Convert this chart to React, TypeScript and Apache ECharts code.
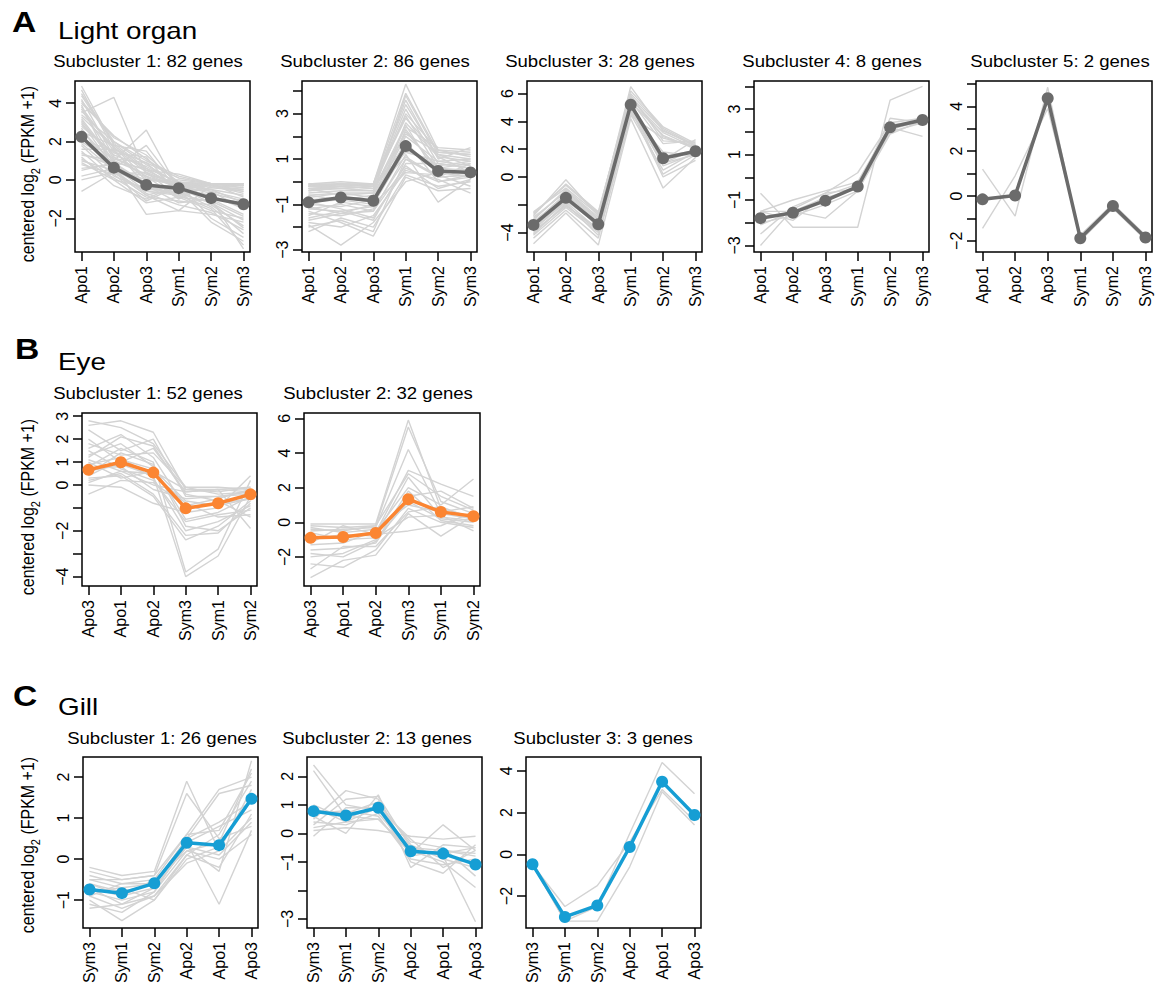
import React, { useEffect, useRef } from 'react';
import * as echarts from 'echarts';

const FONT = "'Liberation Sans', Arial, Helvetica, sans-serif";
const GREY = '#d3d3d3';
const COL_A = '#6b6b6b';
const COL_B = '#fb8532';
const COL_C = '#169ed4';

// ---------- categories ----------
const catsA = ['Apo1', 'Apo2', 'Apo3', 'Sym1', 'Sym2', 'Sym3'];
const catsB = ['Apo3', 'Apo1', 'Apo2', 'Sym3', 'Sym1', 'Sym2'];
const catsC = ['Sym3', 'Sym1', 'Sym2', 'Apo2', 'Apo1', 'Apo3'];

// ---------- panel titles ----------
const titlesA = ['Subcluster 1: 82 genes', 'Subcluster 2: 86 genes', 'Subcluster 3: 28 genes', 'Subcluster 4: 8 genes', 'Subcluster 5: 2 genes'];
const titlesB = ['Subcluster 1: 52 genes', 'Subcluster 2: 32 genes'];
const titlesC = ['Subcluster 1: 26 genes', 'Subcluster 2: 13 genes', 'Subcluster 3: 3 genes'];

// ---------- y ticks / labels ----------
const ticksA1 = [-2, 0, 2, 4];          const labelsA1 = [-2, 0, 2, 4];
const ticksA2 = [-3, -2, -1, 0, 1, 2, 3, 4]; const labelsA2 = [-3, -1, 1, 3];
const ticksA3 = [-4, -2, 0, 2, 4, 6];   const labelsA3 = [-4, 0, 2, 4, 6];
const ticksA4 = [-3, -2, -1, 0, 1, 2, 3, 4]; const labelsA4 = [-3, -1, 1, 3];
const ticksA5 = [-2, -1, 0, 1, 2, 3, 4, 5]; const labelsA5 = [-2, 0, 2, 4];
const ticksB1 = [-4, -3, -2, -1, 0, 1, 2, 3]; const labelsB1 = [-4, -2, 0, 1, 2, 3];
const ticksB2 = [-2, 0, 2, 4, 6];       const labelsB2 = [-2, 0, 2, 4, 6];
const ticksC1 = [-1, 0, 1, 2];          const labelsC1 = [-1, 0, 1, 2];
const ticksC2 = [-3, -2, -1, 0, 1, 2];  const labelsC2 = [-3, -1, 0, 1, 2];
const ticksC3 = [-2, 0, 2, 4];          const labelsC3 = [-2, 0, 2, 4];

// ---------- mean profiles ----------
const meanA1 = [2.25, 0.64, -0.26, -0.43, -0.95, -1.27];
const meanA2 = [-0.91, -0.7, -0.84, 1.57, 0.47, 0.41];
const meanA3 = [-3.45, -1.5, -3.4, 5.2, 1.35, 1.85];
const meanA4 = [-1.8, -1.56, -1.03, -0.41, 2.2, 2.52];
const meanA5 = [-0.15, 0.02, 4.36, -1.89, -0.45, -1.85];
const meanB1 = [0.66, 0.99, 0.54, -1.02, -0.8, -0.41];
const meanB2 = [-0.9, -0.85, -0.62, 1.33, 0.6, 0.35];
const meanC1 = [-0.74, -0.83, -0.59, 0.4, 0.34, 1.47];
const meanC2 = [0.78, 0.63, 0.9, -0.63, -0.71, -1.09];
const meanC3 = [-0.48, -3.0, -2.45, 0.35, 3.48, 1.88];

// ---------- individual gene profiles (representative) ----------
const genesA1 = [
  [4.9, 1.8, 0.5, -0.3, -0.3, -0.4], [4.5, 2.0, 0.8, -0.2, -0.2, -0.2], [4.2, 1.2, 0.2, -0.4, -0.6, -1.0],
  [3.8, 1.5, 0.0, 0.0, -0.2, -0.3], [3.5, 4.3, 0.3, -0.2, -0.3, -0.2], [3.2, 1.0, 2.6, -0.5, -0.8, -1.5],
  [3.0, 0.6, 1.8, -0.4, -1.2, -2.5], [2.8, 1.4, 1.2, -0.8, -1.5, -3.4], [2.6, 0.8, -1.8, -1.6, -1.8, -2.2],
  [2.4, 0.4, -0.8, -1.6, -0.3, -0.6], [2.2, 1.1, 0.5, 0.3, -0.2, -0.3], [2.0, 0.9, -0.2, -0.5, -1.0, -1.8],
  [1.8, 0.2, -0.5, -0.6, -1.4, -2.8], [1.6, 1.6, -0.3, -0.3, -0.5, -0.8], [1.4, 0.7, -0.6, -0.8, -0.2, -0.2],
  [1.2, -0.3, -1.0, -0.2, -2.0, -3.0], [1.0, 0.5, 0.2, -1.0, -0.2, -0.3], [0.8, 0.3, -1.1, -0.3, -0.9, -1.2],
  [0.5, 0.9, -0.4, -0.5, -2.2, -3.2], [0.2, 0.6, 0.0, -0.1, -0.6, -1.5], [-0.6, 0.4, -0.6, -0.7, -0.4, -0.5],
  [3.4, 2.0, 1.0, 0.2, -0.2, -0.2], [2.5, 1.8, 1.5, -0.6, -0.2, -0.3], [1.5, 0.0, -1.2, -0.9, -1.6, -2.0],
  [3.9, 0.5, -0.3, -1.2, -1.0, -3.6], [0.0, 0.4, -0.8, -0.4, -0.2, -0.2], [2.9, 1.3, 0.7, -0.2, -0.2, -0.9],
  [4.0, 2.3, 1.1, -0.1, -0.2, -0.2], [3.6, 1.7, 0.4, -0.3, -0.7, -1.1], [1.1, 0.1, -0.9, -1.1, -1.3, -2.4],
  [4.7, 1.6, 0.9, 0.1, -0.2, -0.2], [4.4, 1.9, 0.6, -0.1, -0.4, -0.6], [3.7, 1.1, 0.9, -0.6, -0.9, -1.4],
  [3.3, 1.7, 0.1, -0.3, -0.2, -0.4], [2.7, 0.3, 0.4, -0.9, -1.1, -1.9], [2.1, 1.5, 0.0, -0.2, -0.5, -1.2],
  [1.9, 0.5, -0.7, -1.3, -1.7, -2.6], [1.3, 1.0, 0.3, -0.4, -0.3, -0.7], [0.9, 0.0, -0.4, -0.7, -1.2, -2.1],
  [0.6, 0.8, -0.2, -0.9, -0.2, -0.3], [4.1, 2.2, 1.3, -0.2, -0.3, -0.5], [3.1, 0.9, 0.6, -0.5, -0.2, -0.2],
];
const genesA2 = [
  [-0.1, -0.1, -0.1, 4.3, 1.4, 1.3], [-0.2, -0.1, -0.2, 3.6, 1.0, 1.5], [-0.3, -0.3, -0.2, 3.2, 0.8, 0.6],
  [-0.1, 0.0, -0.1, 2.8, 1.2, 1.0], [-0.5, -0.4, -0.4, 2.5, 0.2, 0.3], [-0.6, -0.8, -0.6, 2.2, 0.6, 0.5],
  [-0.8, -0.7, -0.9, 1.8, 0.0, 0.2], [-1.0, -1.1, -0.8, 1.5, 0.5, 0.4], [-1.2, -1.0, -1.3, 1.2, -0.9, 0.1],
  [-1.4, -1.5, -1.2, 1.0, 0.3, -0.2], [-1.6, -1.3, -1.7, 0.8, 0.8, 0.6], [-1.8, -2.0, -1.5, 0.5, 0.1, -0.5],
  [-2.2, -1.6, -2.0, 0.3, -0.2, 0.0], [-1.9, -2.8, -1.8, 0.0, 0.4, 0.2], [-1.3, -1.8, -2.4, 0.2, -0.4, -0.3],
  [-0.4, -0.2, -0.3, 3.0, 1.4, 1.1], [-0.7, -0.5, -0.7, 2.0, 0.9, 0.7], [-1.1, -1.4, -1.0, 1.4, 0.7, 0.9],
  [-0.9, -1.2, -1.6, 0.6, 0.0, 0.3], [-1.5, -0.9, -1.1, 2.6, 1.1, 0.4], [-2.0, -1.7, -2.2, 1.0, 0.2, 0.8],
  [-0.2, -0.2, -0.1, 3.9, 1.3, 1.2], [-0.3, -0.6, -0.5, 2.4, 1.5, 1.4],
  [-0.1, -0.2, -0.1, 3.4, 1.1, 0.9], [-0.2, -0.1, -0.1, 2.9, 0.6, 0.8], [-0.3, -0.2, -0.3, 2.1, 1.3, 1.2],
  [-0.15, -0.1, -0.2, 1.6, 0.4, 0.5], [-0.4, -0.3, -0.2, 1.3, 0.9, 1.0], [-0.6, -0.5, -0.5, 3.8, 1.2, 0.7],
  [-0.9, -0.8, -1.0, 0.4, 0.3, 0.6], [-1.2, -1.3, -1.1, 2.3, 0.5, 0.2], [-1.7, -1.4, -1.3, 0.7, -0.3, 0.1],
  [-0.2, -0.3, -0.4, 1.1, 0.2, 0.3],
];
const genesA3 = [
  [-3.0, -1.0, -3.0, 5.8, 3.4, 2.2], [-3.3, -1.2, -3.2, 5.6, 3.2, 2.1], [-2.6, -0.6, -2.6, 6.2, 3.6, 2.4],
  [-3.8, -1.8, -3.8, 5.4, 3.0, 2.0], [-2.8, -0.2, -2.8, 6.5, 3.3, 2.3], [-4.2, -2.2, -4.0, 4.8, 1.5, 1.9],
  [-3.6, -1.6, -3.5, 5.0, 0.8, 1.7], [-4.8, -2.6, -4.9, 4.2, -0.8, 1.4], [-3.2, -1.4, -3.6, 5.1, 0.2, 1.6],
  [-4.0, -2.0, -3.9, 4.5, 0.5, 1.8], [-2.5, -0.8, -2.7, 5.3, 1.0, 2.0], [-4.4, -2.4, -4.4, 4.6, 1.8, 1.5],
  [-3.5, -1.3, -3.3, 5.5, 2.4, 2.6], [-2.9, -1.1, -3.1, 4.9, 0.0, 1.2], [-3.7, -1.7, -3.4, 5.2, 1.2, 2.7],
  [-4.1, -1.9, -4.2, 4.4, 2.8, 2.2], [-3.1, -0.9, -2.9, 6.0, 3.5, 2.3], [-3.4, -1.5, -3.3, 5.7, 2.9, 2.1],
  [-3.9, -2.1, -3.7, 4.7, 1.0, 1.6], [-2.7, -0.5, -2.5, 5.9, 2.6, 2.5],
];
const genesA4 = [
  [-3.0, -1.4, -0.7, 0.2, 2.4, 2.6], [-0.7, -2.2, -2.2, -2.2, 3.4, 4.0], [-2.5, -1.3, -0.7, -0.5, 2.6, 2.4],
  [-1.5, -1.5, -1.8, -0.6, 2.2, 1.8], [-1.5, -1.9, -0.8, -0.3, 2.1, 2.5], [-2.1, -1.5, -0.9, -0.5, 2.0, 2.4],
  [-1.5, -1.0, -0.6, -0.2, 2.3, 2.5], [-2.0, -1.7, -1.2, -0.6, 1.9, 2.5],
];
const genesA5 = [
  [1.2, -0.9, 4.85, -2.0, -0.55, -1.95], [-1.45, 0.9, 3.9, -1.75, -0.35, -1.75],
];
const genesB1 = [
  [2.8, 2.5, 1.8, -0.1, -0.1, -0.2], [2.6, 2.8, 2.3, -0.2, -0.3, -0.1], [2.4, 1.5, 2.0, -0.5, -0.5, -0.4],
  [2.0, 1.0, 1.6, -0.3, -0.2, -0.3], [1.6, 2.2, 1.2, -1.0, -0.8, -0.6], [1.3, 1.8, 0.8, -1.5, -1.2, -0.5],
  [1.1, 0.6, 0.5, -0.8, -1.4, -1.3], [0.9, 1.2, 0.3, -2.0, -1.6, -0.9], [0.7, 0.8, -0.2, -0.6, -0.5, -0.3],
  [0.5, 1.4, 0.9, -1.8, -2.0, -1.0], [0.3, 0.4, -0.5, -2.4, -1.8, -0.7], [0.0, -0.1, -0.8, -1.2, -1.0, 0.4],
  [-0.4, 0.2, 0.1, -0.9, -0.6, -0.2], [0.6, 0.9, 0.4, -4.0, -3.1, -0.5], [0.8, 1.6, 1.0, -3.8, -2.8, 0.2],
  [1.0, 0.3, 0.6, -0.2, -0.2, -1.9], [1.2, 2.1, 1.7, -0.4, -0.7, -1.4], [0.2, 0.5, -0.4, -2.2, -2.1, -0.8],
  [1.5, 0.7, 0.2, -1.6, -1.3, -1.1], [0.4, 1.1, 0.7, -0.7, -0.9, -0.6], [1.8, 1.3, 1.4, -0.1, -0.4, -0.3],
  [0.1, 0.6, 0.0, -0.3, -0.2, -0.1],
];
const genesB2 = [
  [-0.1, -0.1, -0.1, 5.9, 0.8, 0.3], [-0.2, -0.3, -0.2, 5.5, 1.2, 0.5], [-0.5, -0.4, -0.3, 4.2, 0.5, 0.2],
  [-0.8, -0.9, -0.6, 3.0, 2.2, 1.5], [-1.0, -0.7, -0.8, 2.6, 0.3, 0.1], [-1.3, -1.2, -0.5, 2.0, 1.0, 2.5],
  [-1.6, -1.5, -1.2, 1.5, 1.8, 0.8], [-2.0, -1.8, -1.0, 1.2, 0.2, 0.0], [-2.4, -2.6, -1.6, 0.8, 0.0, -0.3],
  [-3.2, -2.2, -1.9, 0.5, -0.8, 0.4], [-0.3, -0.6, -0.4, 1.0, 0.6, 0.9], [-0.6, -1.0, -0.9, 0.3, 0.4, -0.5],
  [-1.2, -0.2, -0.7, -0.5, -0.2, 0.6], [-2.7, -1.4, -1.4, 0.6, 0.9, 0.2], [-0.4, -0.5, -0.2, 2.8, 1.5, 0.7],
  [-1.8, -2.0, -1.1, 1.8, 0.1, -0.2],
];
const genesC1 = [
  [-0.2, -0.4, -0.3, 1.9, 0.2, 1.0], [-0.3, -0.5, -0.4, 1.6, 0.5, 0.8], [-0.4, -0.6, -0.5, 0.6, 1.7, 2.0],
  [-0.5, -0.7, -0.6, 0.5, 1.6, 1.8], [-0.6, -0.8, -0.6, 0.4, -1.1, 0.7], [-0.7, -0.9, -0.7, 0.3, -0.3, 2.4],
  [-0.8, -1.0, -0.8, 0.2, 0.4, 2.2], [-0.9, -1.2, -0.9, 0.1, 0.6, 1.9], [-1.0, -1.5, -1.0, 0.0, 0.3, 1.5],
  [-1.1, -1.3, -0.8, 0.4, 0.8, 1.2], [-1.2, -1.1, -0.7, 0.3, 0.1, 0.9], [-0.5, -0.5, -0.4, 0.6, 0.7, 2.1],
  [-0.6, -0.9, -0.5, 0.2, 0.0, 0.6], [-0.9, -0.6, -0.6, 0.5, 0.9, 1.4], [-0.7, -1.1, -0.9, -0.1, 0.2, 1.7],
  [-0.8, -0.7, -1.0, 0.1, -0.2, 1.1],
];
const genesC2 = [
  [2.4, 1.0, 0.8, -0.5, -0.8, -3.1], [2.2, 0.6, 0.5, -0.6, -1.0, -1.9], [0.5, 1.5, 1.2, -0.8, -0.6, -0.8],
  [0.6, 0.0, 1.35, -1.2, -0.4, -0.5], [0.1, 0.2, 0.1, -0.1, -0.2, -0.1], [0.2, 0.4, 0.5, -0.7, 0.3, -0.6],
  [-0.1, 0.9, 0.9, -1.0, -1.4, -0.4], [0.8, 0.7, 1.1, -0.4, -0.9, -1.2], [0.4, 0.3, 0.7, -0.6, -0.7, -0.5],
  [1.0, 0.5, 1.0, -0.3, -0.5, -1.5], [0.7, 0.8, 0.6, -0.9, -1.1, -0.9], [0.3, 1.2, 1.3, -0.5, -0.6, -0.7],
  [0.9, 0.4, 0.9, -0.2, -1.2, -0.6],
];
const genesC3 = [
  [-0.45, -3.2, -2.5, 1.0, 4.4, 2.9], [-0.5, -2.5, -1.5, 0.6, 3.1, 1.6], [-0.5, -3.2, -3.2, -0.6, 3.0, 1.4],
];

// ---------- layout (pixels / axis ranges) ----------
const layouts = [
  { left: 75, top: 81, width: 175, height: 171, ymin: -3.76, ymax: 5.16, tx: 148, ty: 61 },
  { left: 302, top: 81, width: 175, height: 171, ymin: -3.1, ymax: 4.44, tx: 375, ty: 61 },
  { left: 527, top: 81, width: 175, height: 171, ymin: -5.4, ymax: 6.91, tx: 600, ty: 61 },
  { left: 754, top: 81, width: 175, height: 171, ymin: -3.29, ymax: 4.24, tx: 832, ty: 61 },
  { left: 976, top: 81, width: 176, height: 171, ymin: -2.5, ymax: 5.13, tx: 1060, ty: 61 },
  { left: 82, top: 413, width: 175, height: 173, ymin: -4.41, ymax: 3.14, tx: 148, ty: 393 },
  { left: 304, top: 413, width: 176, height: 173, ymin: -3.68, ymax: 6.31, tx: 378, ty: 393 },
  { left: 83, top: 757, width: 175, height: 171, ymin: -1.68, ymax: 2.49, tx: 162, ty: 738 },
  { left: 307, top: 757, width: 175, height: 171, ymin: -3.32, ymax: 2.68, tx: 377, ty: 738 },
  { left: 526, top: 757, width: 175, height: 171, ymin: -3.53, ymax: 4.66, tx: 603, ty: 738 },
];

const panels = [
  { cats: catsA, title: titlesA[0], mean: meanA1, genes: genesA1, color: COL_A, ticks: ticksA1, labels: labelsA1 },
  { cats: catsA, title: titlesA[1], mean: meanA2, genes: genesA2, color: COL_A, ticks: ticksA2, labels: labelsA2 },
  { cats: catsA, title: titlesA[2], mean: meanA3, genes: genesA3, color: COL_A, ticks: ticksA3, labels: labelsA3 },
  { cats: catsA, title: titlesA[3], mean: meanA4, genes: genesA4, color: COL_A, ticks: ticksA4, labels: labelsA4 },
  { cats: catsA, title: titlesA[4], mean: meanA5, genes: genesA5, color: COL_A, ticks: ticksA5, labels: labelsA5 },
  { cats: catsB, title: titlesB[0], mean: meanB1, genes: genesB1, color: COL_B, ticks: ticksB1, labels: labelsB1 },
  { cats: catsB, title: titlesB[1], mean: meanB2, genes: genesB2, color: COL_B, ticks: ticksB2, labels: labelsB2 },
  { cats: catsC, title: titlesC[0], mean: meanC1, genes: genesC1, color: COL_C, ticks: ticksC1, labels: labelsC1 },
  { cats: catsC, title: titlesC[1], mean: meanC2, genes: genesC2, color: COL_C, ticks: ticksC2, labels: labelsC2 },
  { cats: catsC, title: titlesC[2], mean: meanC3, genes: genesC3, color: COL_C, ticks: ticksC3, labels: labelsC3 },
];

const sections = [
  { letter: 'A', name: 'Light organ', ly: 22.5, ny: 30.5, lx: 12, yTitle: 174 },
  { letter: 'B', name: 'Eye', ly: 349, ny: 362, lx: 15, yTitle: 507 },
  { letter: 'C', name: 'Gill', ly: 696, ny: 707, lx: 13, yTitle: 845 },
];

const idx = [0, 1, 2, 3, 4, 5];
const minus = (v: number) => String(v).replace('-', '\u2212');

function buildOption() {
  const grid: any[] = [];
  const xAxis: any[] = [];
  const yAxis: any[] = [];
  const series: any[] = [];
  const graphic: any[] = [];

  panels.forEach((p, i) => {
    const L = layouts[i];
    grid.push({
      left: L.left, top: L.top, width: L.width, height: L.height,
      show: true, borderColor: '#000', borderWidth: 1.5, backgroundColor: 'transparent',
      containLabel: false, outerBoundsMode: 'none',
    });
    xAxis.push({
      type: 'value', gridIndex: i, min: -0.2, max: 5.2, position: 'bottom',
      splitLine: { show: false }, axisLine: { show: false, onZero: false },
      axisTick: { show: true, length: 9, customValues: idx, lineStyle: { color: '#000', width: 1.5 } },
      axisLabel: {
        customValues: idx, rotate: 90, margin: 14, fontSize: 16, fontFamily: FONT, color: '#000',
        formatter: (v: number) => p.cats[Math.round(v)],
      },
    });
    yAxis.push({
      type: 'value', gridIndex: i, min: L.ymin, max: L.ymax, position: 'left',
      splitLine: { show: false }, axisLine: { show: false, onZero: false },
      axisTick: { show: true, length: 9, customValues: p.ticks, lineStyle: { color: '#000', width: 1.5 } },
      axisLabel: {
        customValues: p.labels, rotate: 90, margin: 12, fontSize: 16, fontFamily: FONT, color: '#000',
        formatter: (v: number) => minus(v),
      },
    });
    p.genes.forEach((g) => {
      series.push({
        type: 'line', xAxisIndex: i, yAxisIndex: i, silent: true, z: 2,
        data: g.map((v, j) => [j, v]), symbol: 'none',
        lineStyle: { color: GREY, width: 1.4 },
      });
    });
    series.push({
      type: 'line', xAxisIndex: i, yAxisIndex: i, silent: true, z: 3,
      data: p.mean.map((v, j) => [j, v]), symbol: 'circle', symbolSize: 12,
      itemStyle: { color: p.color }, lineStyle: { color: p.color, width: 3.5 },
    });
    graphic.push({
      type: 'text', x: L.tx, y: L.ty, scaleX: 1.16, silent: true,
      style: { text: p.title, fontSize: 16, fontFamily: FONT, fill: '#000', align: 'center', verticalAlign: 'middle' },
    });
  });

  sections.forEach((s) => {
    graphic.push({
      type: 'text', x: s.lx, y: s.ly, scaleX: 1.16, silent: true,
      style: { text: s.letter, fontSize: 29, fontWeight: 'bold', fontFamily: FONT, fill: '#000', align: 'left', verticalAlign: 'middle' },
    });
    graphic.push({
      type: 'text', x: 58, y: s.ny, scaleX: 1.16, silent: true,
      style: { text: s.name, fontSize: 24, fontFamily: FONT, fill: '#000', align: 'left', verticalAlign: 'middle' },
    });
    graphic.push({
      type: 'text', x: 28, y: s.yTitle, rotation: Math.PI / 2, scaleY: 1.16, silent: true,
      style: {
        text: '{n|centered log}{s|2}{n| (FPKM +1)}', align: 'center', verticalAlign: 'middle',
        rich: {
          n: { fontSize: 16, fontFamily: FONT, fill: '#000', lineHeight: 24 },
          s: { fontSize: 11, fontFamily: FONT, fill: '#000', lineHeight: 11, verticalAlign: 'bottom' },
        },
      },
    });
  });

  return { animation: false, backgroundColor: '#fff', grid, xAxis, yAxis, series, graphic };
}

export default function App() {
  const ref = useRef<HTMLDivElement>(null);
  useEffect(() => {
    document.body.style.margin = '0';
    const chart = echarts.init(ref.current!, null, { renderer: 'svg' });
    chart.setOption(buildOption() as any);
    return () => chart.dispose();
  }, []);
  return <div ref={ref} style={{ width: 1155, height: 987 }} />;
}
